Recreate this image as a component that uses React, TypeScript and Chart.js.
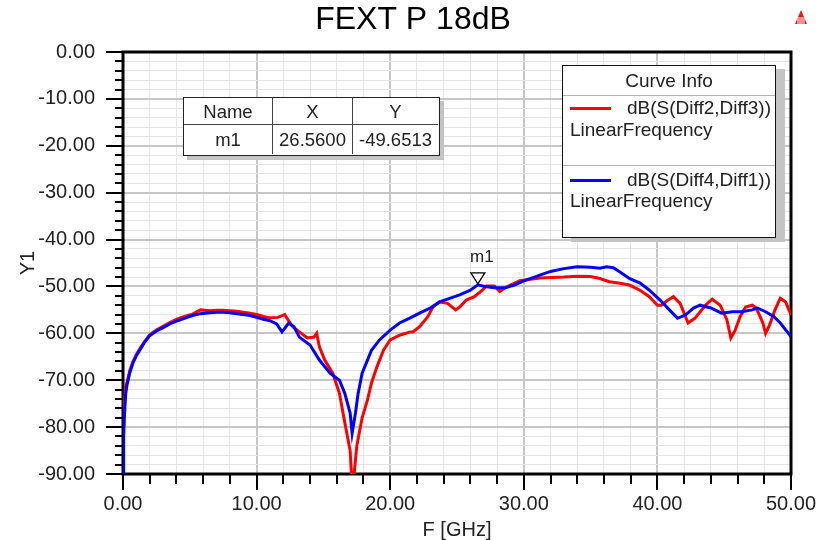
import React, { useEffect, useRef } from "react";
import { Chart, registerables } from "chart.js";

Chart.register(...registerables);

const chartTitle = "FEXT P 18dB";
const xAxisTitle = "F [GHz]";
const yAxisTitle = "Y1";
const xMin = 0;
const xMax = 50;
const yMin = -90;
const yMax = 0;
const tickStep = 2;
const labelStep = 10;

const redLabel = "dB(S(Diff2,Diff3))";
const blueLabel = "dB(S(Diff4,Diff1))";
const sweepLabel = "LinearFrequency";

const blueFreq = [
  0, 0.05, 0.1, 0.2, 0.3, 0.5, 0.75, 1.0, 1.3, 1.6, 2.0, 2.5, 3.0, 3.5, 4.0, 4.6, 5.2, 5.8, 6.5, 7.0,
  7.5, 8.0, 8.5, 9.0, 9.5, 10.0, 10.5, 11.0, 11.5, 11.9, 12.4, 12.8, 13.2, 14.0, 14.7, 15.5, 16.2, 16.6,
  17.0, 17.15, 17.4, 17.6, 17.9, 18.3, 18.6, 19.2, 20.0, 20.7, 21.5, 22.2, 23.0, 23.7, 24.5, 25.2, 26.0,
  26.56, 27.1, 27.8, 28.6, 29.3, 30.0, 30.8, 31.2, 32.0, 33.0, 34.0, 35.0, 35.7, 36.2, 36.7, 37.2, 37.9,
  38.7, 39.4, 40.2, 40.9, 41.5, 42.1, 42.7, 43.2, 44.0, 44.8, 45.6, 46.3, 47.1, 47.5, 48.1, 48.7, 49.2, 50.0,
];
const blueDb = [
  -90, -82, -78, -73, -71, -68.5, -66.3, -64.8, -63.4, -62.0, -60.5, -59.5, -58.8, -58.0, -57.4, -56.8, -56.2, -55.8, -55.6, -55.5,
  -55.5, -55.6, -55.8, -56.0, -56.2, -56.6, -57.0, -57.3, -58.0, -59.7, -57.8, -58.6, -60.8, -62.5, -65.7, -68.5, -70.0, -72.8,
  -77.0, -81.3, -77.0, -72.8, -68.5, -65.7, -63.6, -61.4, -59.3, -57.8, -56.7, -55.7, -54.6, -53.3, -52.5, -51.8, -50.8,
  -49.65, -50.0, -50.3, -50.3, -49.7, -48.8, -48.0, -47.6, -46.8, -46.2, -45.8, -45.9, -46.1, -45.8, -46.0, -46.9, -48.3,
  -49.3, -50.8, -52.9, -55.0, -56.8, -56.1, -54.6, -54.0, -54.6, -55.7, -55.4, -55.4, -55.0, -54.6, -55.4, -56.4, -57.8, -60.7,
];

const redFreq = [
  0.05, 0.1, 0.2, 0.3, 0.5, 0.75, 1.0, 1.3, 1.6, 2.0, 2.5, 3.0, 3.5, 4.0, 4.6, 5.2, 5.8, 6.5, 7.0, 7.5,
  8.0, 8.5, 9.0, 9.5, 10.0, 10.5, 11.0, 11.6, 12.1, 12.7, 13.2, 13.8, 14.3, 14.5, 14.7, 15.1, 15.7, 16.2,
  16.6, 16.8, 17.0, 17.1, 17.3, 17.5, 17.7, 17.9, 18.3, 18.6, 19.0, 19.5, 20.0, 20.7, 21.5, 21.7, 22.2, 22.8,
  23.2, 23.7, 24.3, 24.9, 25.2, 25.7, 26.3, 26.9, 27.2, 27.8, 28.2, 28.6, 29.0, 29.7, 31.2, 32.0, 33.0,
  34.0, 35.0, 35.7, 36.4, 37.2, 37.9, 38.7, 39.4, 40.0, 40.3, 40.8, 41.2, 41.7, 42.1, 42.3, 42.8, 43.6,
  44.1, 44.7, 45.2, 45.5, 45.8, 46.2, 46.6, 47.1, 47.4, 47.9, 48.1, 48.4, 48.8, 49.2, 49.6, 50.0,
];
const redDb = [
  -80, -75, -71.2, -70.5, -68.0, -66.0, -64.5, -63.1, -61.8, -60.3, -59.3, -58.5, -57.7, -57.0, -56.4, -55.9, -55.0, -55.2, -55.1, -55.1,
  -55.2, -55.3, -55.5, -55.7, -56.0, -56.4, -56.7, -56.6, -56.0, -58.6, -59.7, -61.0, -60.8, -60.0, -62.9, -65.7, -68.5, -72.8,
  -79.0, -82.0, -85.0, -90.0, -90.0, -84.0, -81.0, -78.0, -74.2, -70.6, -67.2, -63.6, -61.4, -60.4, -59.7, -59.7, -58.6, -56.5,
  -54.4, -53.3, -53.6, -55.0, -54.4, -52.9, -52.2, -50.8, -49.9, -49.9, -51.1, -50.3, -49.7, -48.8, -48.2, -48.1, -48.0,
  -47.8, -47.9, -48.3, -49.0, -49.3, -49.7, -50.8, -52.2, -54.0, -54.0, -52.9, -52.2, -53.6, -56.4, -57.8, -56.8, -54.0,
  -52.7, -54.0, -57.1, -61.0, -59.5, -56.4, -54.4, -54.0, -54.6, -57.8, -60.0, -58.2, -55.0, -52.5, -53.3, -56.1,
];

const markerName = "m1";
const markerX = 26.56;
const markerY = -49.6513;
const markerXText = "26.5600";
const markerYText = "-49.6513";

const FONT = "'Liberation Sans', Arial, sans-serif";
const TEXT = "#222";

const isMajor = (v: number) => Math.round(v) % labelStep === 0;

const framePlugin = {
  id: "frame",
  beforeDatasetsDraw(chart: any) {
    const { ctx, chartArea } = chart;
    const xs = chart.scales.x;
    const ys = chart.scales.y;
    ctx.save();
    ctx.strokeStyle = "#000";
    ctx.lineWidth = 2;
    ys.ticks.forEach((t: any) => {
      const y = Math.round(ys.getPixelForValue(t.value));
      const len = isMajor(t.value) ? 17 : 8;
      ctx.beginPath();
      ctx.moveTo(chartArea.left - len, y);
      ctx.lineTo(chartArea.left, y);
      ctx.stroke();
    });
    xs.ticks.forEach((t: any) => {
      const x = Math.round(xs.getPixelForValue(t.value));
      const len = isMajor(t.value) ? 16 : 10;
      ctx.beginPath();
      ctx.moveTo(x, chartArea.bottom);
      ctx.lineTo(x, chartArea.bottom + len);
      ctx.stroke();
    });
    ctx.lineWidth = 3;
    ctx.strokeRect(chartArea.left, chartArea.top, chartArea.right - chartArea.left, chartArea.bottom - chartArea.top);
    ctx.restore();
  },
};

const markerPlugin = {
  id: "marker",
  afterDatasetsDraw(chart: any) {
    const { ctx } = chart;
    const px = chart.scales.x.getPixelForValue(markerX);
    const py = chart.scales.y.getPixelForValue(markerY);
    ctx.save();
    ctx.beginPath();
    ctx.moveTo(px - 7, py - 12);
    ctx.lineTo(px + 7, py - 12);
    ctx.lineTo(px, py - 1);
    ctx.closePath();
    ctx.fillStyle = "#fff";
    ctx.fill();
    ctx.strokeStyle = "#000";
    ctx.lineWidth = 1.3;
    ctx.stroke();
    ctx.fillStyle = TEXT;
    ctx.font = `17px ${FONT}`;
    ctx.textAlign = "center";
    ctx.textBaseline = "middle";
    ctx.fillText(markerName, px + 4, py - 27);
    // small logo at top right
    const lx = 801;
    const ly = 10;
    ctx.beginPath();
    ctx.moveTo(lx, ly);
    ctx.lineTo(lx + 6, ly + 14);
    ctx.lineTo(lx - 6, ly + 14);
    ctx.closePath();
    ctx.fillStyle = "#e02020";
    ctx.fill();
    ctx.strokeStyle = "#fff";
    ctx.lineWidth = 1;
    for (let i = -3; i <= 3; i += 2) {
      ctx.beginPath();
      ctx.moveTo(lx + i, ly + 7);
      ctx.lineTo(lx + i, ly + 14);
      ctx.stroke();
    }
    ctx.restore();
  },
};

export default function App() {
  const canvasRef = useRef<HTMLCanvasElement | null>(null);

  useEffect(() => {
    if (!canvasRef.current) return;
    const redData = redFreq.map((f, i) => ({ x: f, y: redDb[i] }));
    const blueData = blueFreq.map((f, i) => ({ x: f, y: blueDb[i] }));
    const gridColor = (c: any) => (isMajor(c.tick.value) ? "#c6c6c6" : "#e6e6e6");
    const gridWidth = (c: any) => (isMajor(c.tick.value) ? 2 : 1);
    const chart = new Chart(canvasRef.current, {
      type: "line",
      data: {
        datasets: [
          {
            label: blueLabel,
            data: blueData,
            borderColor: "#0000ff",
            borderWidth: 3,
            pointRadius: 0,
            tension: 0,
          },
          {
            label: redLabel,
            data: redData,
            borderColor: "#ff0000",
            borderWidth: 3,
            pointRadius: 0,
            tension: 0,
          },
        ],
      },
      options: {
        animation: false,
        responsive: false,
        maintainAspectRatio: false,
        layout: { padding: { left: 35, right: 35, top: 0, bottom: 0 } },
        plugins: {
          legend: { display: false },
          tooltip: { enabled: false },
          title: {
            display: true,
            text: chartTitle,
            color: "#000",
            font: { family: FONT, size: 32, weight: "normal" },
            padding: { top: 1, bottom: 12.6 },
          },
        },
        scales: {
          x: {
            type: "linear",
            min: xMin,
            max: xMax,
            afterFit: (s: any) => {
              s.height = 66;
              s.paddingLeft = 0;
              s.paddingRight = 0;
            },
            ticks: {
              stepSize: tickStep,
              autoSkip: false,
              maxRotation: 0,
              padding: 18,
              color: TEXT,
              font: { family: FONT, size: 20 },
              callback: (v: any) => (isMajor(Number(v)) ? Number(v).toFixed(2) : ""),
            },
            grid: { color: gridColor, lineWidth: gridWidth, drawTicks: false },
            border: { display: false },
            title: {
              display: true,
              text: xAxisTitle,
              color: TEXT,
              font: { family: FONT, size: 20 },
              padding: { top: 0, bottom: -2 },
            },
          },
          y: {
            type: "linear",
            min: yMin,
            max: yMax,
            afterFit: (s: any) => {
              s.width = 88;
              s.paddingTop = 0;
              s.paddingBottom = 0;
            },
            ticks: {
              stepSize: tickStep,
              autoSkip: false,
              padding: 28,
              color: TEXT,
              font: { family: FONT, size: 20 },
              callback: (v: any) => (isMajor(Number(v)) ? Number(v).toFixed(2) : ""),
            },
            grid: { color: gridColor, lineWidth: gridWidth, drawTicks: false },
            border: { display: false },
            title: {
              display: true,
              text: yAxisTitle,
              color: TEXT,
              font: { family: FONT, size: 20 },
              padding: { top: -19, bottom: 0 },
            },
          },
        },
      },
      plugins: [framePlugin, markerPlugin],
    });
    return () => chart.destroy();
  }, []);

  const cell = (left: number, top: number, width: number, height: number, text: string, extra: any = {}) => (
    <div
      style={{
        position: "absolute",
        left,
        top,
        width,
        height,
        lineHeight: `${height}px`,
        textAlign: "center",
        boxSizing: "border-box",
        ...extra,
      }}
    >
      {text}
    </div>
  );

  return (
    <div style={{ position: "absolute", left: 0, top: 0, width: 826, height: 540, background: "#fff", fontFamily: FONT }}>
      <canvas ref={canvasRef} width={826} height={540} style={{ position: "absolute", left: 0, top: 0, width: 826, height: 540 }} />

      {/* marker table */}
      <div
        style={{
          position: "absolute",
          left: 183,
          top: 97,
          width: 257,
          height: 59,
          boxSizing: "border-box",
          border: "1.5px solid #222",
          background: "#fff",
          boxShadow: "4px 4px 0 #c4c4c4",
          fontSize: 18.5,
          color: TEXT,
        }}
      >
        {cell(0, 0, 89, 27, "Name", { borderRight: "1px solid #444", borderBottom: "1px solid #444" })}
        {cell(89, 0, 80, 27, "X", { borderRight: "1px solid #444", borderBottom: "1px solid #444" })}
        {cell(169, 0, 85, 27, "Y", { borderBottom: "1px solid #444" })}
        {cell(0, 27, 89, 29, markerName, { borderRight: "1px solid #444" })}
        {cell(89, 27, 80, 29, markerXText, { borderRight: "1px solid #444" })}
        {cell(169, 27, 85, 29, markerYText)}
      </div>

      {/* curve info legend */}
      <div
        style={{
          position: "absolute",
          left: 562,
          top: 65,
          width: 214,
          height: 173,
          boxSizing: "border-box",
          border: "1.5px solid #111",
          background: "#fff",
          boxShadow: "9px 4px 0 #c4c4c4",
          fontSize: 19,
          color: TEXT,
        }}
      >
        <div
          style={{
            position: "absolute",
            left: 0,
            right: 0,
            top: 0,
            height: 29,
            lineHeight: "29px",
            textAlign: "center",
            borderBottom: "1px solid #b4b4b4",
          }}
        >
          Curve Info
        </div>
        <div style={{ position: "absolute", left: 7, top: 41, width: 41, height: 3, background: "#ff0000" }} />
        <div style={{ position: "absolute", right: 4, top: 32, height: 20, lineHeight: "20px", whiteSpace: "nowrap" }}>{redLabel}</div>
        <div style={{ position: "absolute", left: 7, top: 54, height: 20, lineHeight: "20px", whiteSpace: "nowrap" }}>{sweepLabel}</div>
        <div style={{ position: "absolute", left: 0, right: 0, top: 99, height: 0, borderTop: "1px solid #b4b4b4" }} />
        <div style={{ position: "absolute", left: 7, top: 113, width: 41, height: 3, background: "#0000ff" }} />
        <div style={{ position: "absolute", right: 4, top: 104, height: 20, lineHeight: "20px", whiteSpace: "nowrap" }}>{blueLabel}</div>
        <div style={{ position: "absolute", left: 7, top: 125, height: 20, lineHeight: "20px", whiteSpace: "nowrap" }}>{sweepLabel}</div>
      </div>
    </div>
  );
}
